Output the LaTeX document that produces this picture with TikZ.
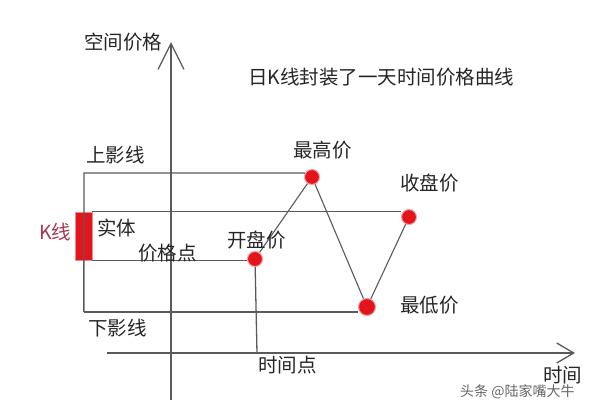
\documentclass[tikz,border=0pt]{standalone}
\usepackage{fontspec}
\setmainfont{Noto Sans CJK SC}
\usetikzlibrary{arrows.meta}
\definecolor{ln}{HTML}{5A5A5A}
\definecolor{dotred}{HTML}{E3141C}
\definecolor{kred}{HTML}{A8384F}
\begin{document}
\begin{tikzpicture}[x=1pt,y=-1pt,
  axis/.style={draw=ln,line width=1.3pt},
  guide/.style={draw=ln,line width=1.3pt},
  pt/.style={circle,fill=dotred,draw=dotred!40,line width=1pt,inner sep=0pt,minimum size=15pt},
  lbl/.style={inner sep=0pt,font=\fontsize{19.5}{21}\selectfont,text=black!85}]
\useasboundingbox (0,0) rectangle (595,413);
\fill[white] (0,0) rectangle (595,413);
% axes
\coordinate (ytop) at (171,42);
\coordinate (ybot) at (171,400);
\coordinate (xl) at (107,353);
\coordinate (xr) at (575,353);
\draw[axis,-{Straight Barb[length=26pt,width=26pt]}] (ybot) -- (ytop);
\draw[axis,-{Straight Barb[length=17pt,width=20pt]}] (xl) -- (xr);
% price points
\node[pt] (open) at (255,259) {};
\node[pt] (high) at (312,177) {};
\node[pt,minimum size=17pt] (low) at (367,307) {};
\node[pt] (close) at (409,217) {};
% K candle
\node[fill=dotred,draw=dotred!50,inner sep=0pt,minimum width=17pt,minimum height=48pt] (k) at (83.5,236) {};
% guide lines
\coordinate (ul) at (84,173);
\coordinate (ll) at (84,312);
\draw[guide] (ll) -- (ul) -- (high.west |- ul) -- (high);
\draw[guide] (k.north east) -- (close.west |- k.north);
\draw[guide] (k.south east) -- (open.west |- k.south);
\draw[guide] (ll) -- (low.west |- ll);
\draw[guide] (k.south) -- (k.south |- ll);
\coordinate (tp) at (257,353);
\draw[guide] (open) -- (tp);
% price curve
\draw[ln,line width=1.1pt] (open) -- (high) -- (low) -- (close);
% labels
\node[lbl,anchor=west] (t1) at (84,42) {空间价格};
\node[lbl,anchor=west] (t2) at (248,77) {日K线封装了一天时间价格曲线};
\node[lbl,anchor=west] (t3) at (86,155) {上影线};
\node[lbl,anchor=west] (t4) at (293,150) {最高价};
\node[lbl,anchor=west] (t5) at (400,183) {收盘价};
\node[lbl,anchor=west,text=kred] (t6) at (39,232) {K线};
\node[lbl,anchor=west] (t7) at (97,228) {实体};
\node[lbl,anchor=west] (t8) at (138,253) {价格点};
\node[lbl,anchor=west] (t9) at (227,240) {开盘价};
\node[lbl,anchor=west] (t10) at (88,328) {下影线};
\node[lbl,anchor=west] (t11) at (258,365) {时间点};
\node[lbl,anchor=west] (t12) at (400,305) {最低价};
\node[lbl,anchor=west] (t13) at (543,375) {时间};
\node[inner sep=0pt,anchor=west,font=\fontsize{14}{16}\selectfont,text=black!60] (wm) at (460,392) {头条 @陆家嘴大牛};
\end{tikzpicture}
\end{document}
